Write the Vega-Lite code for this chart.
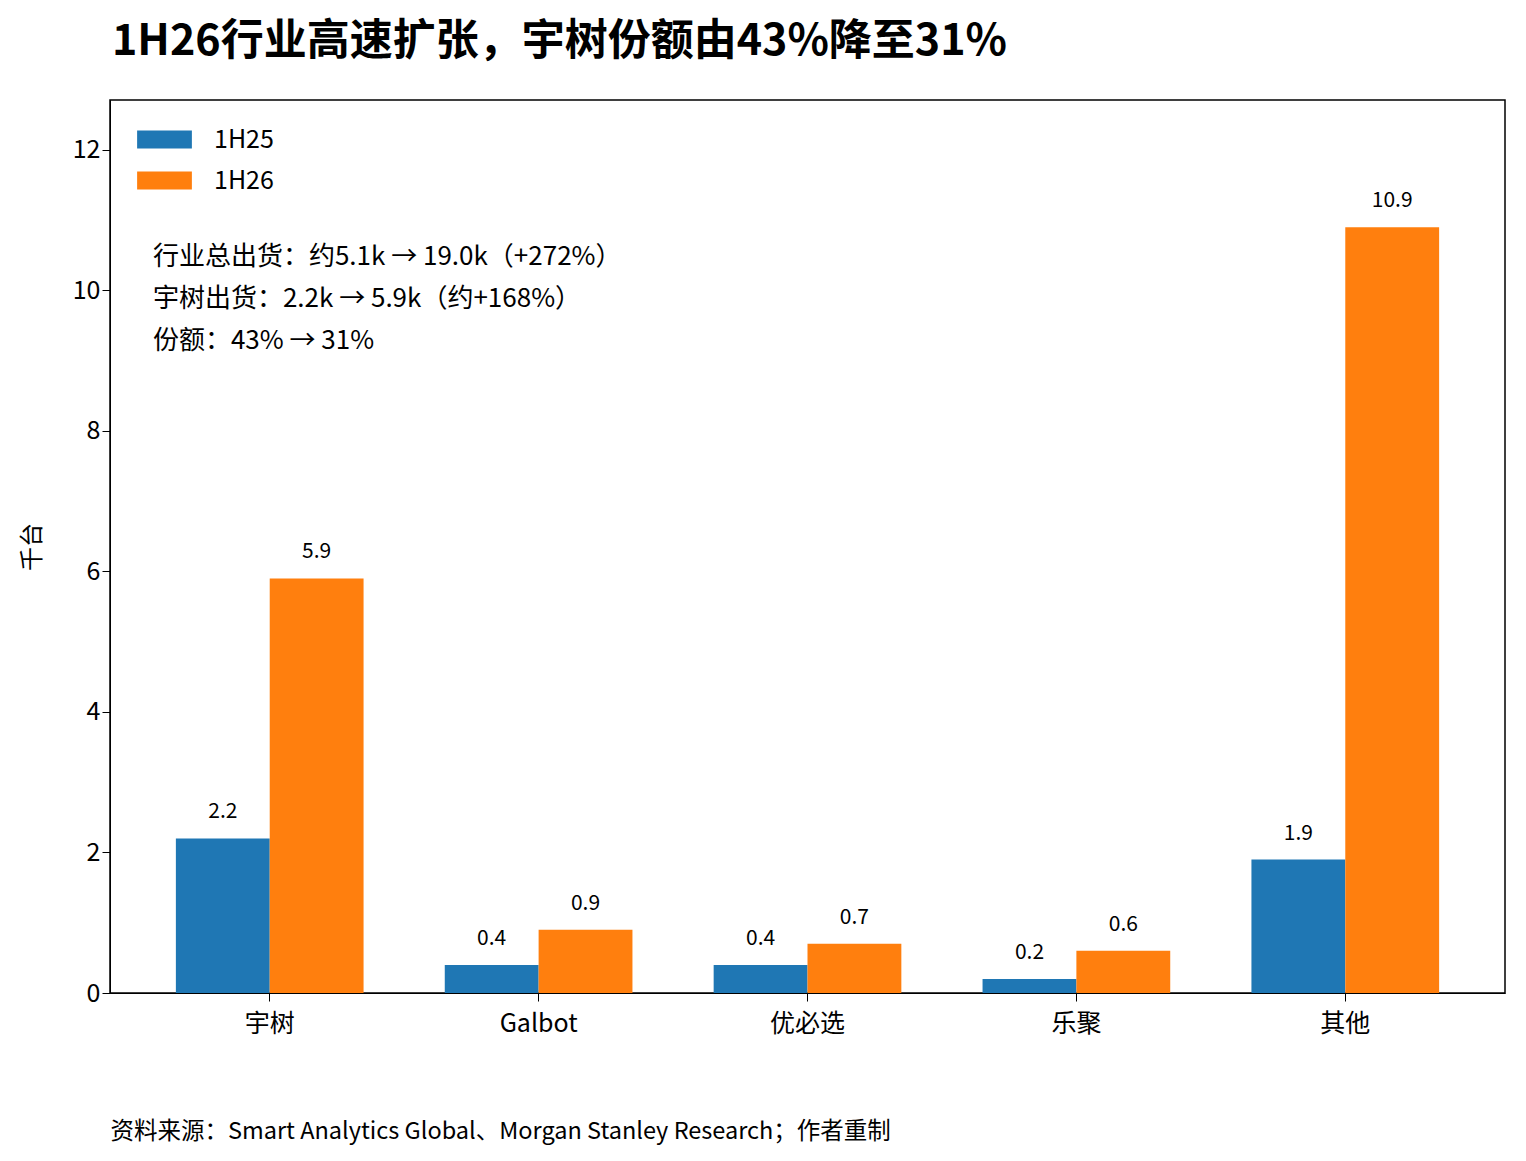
{
  "$schema": "https://vega.github.io/schema/vega-lite/v6.json",
  "width": 1395,
  "height": 893,
  "autosize": "none",
  "padding": {"left": 110, "top": 100, "right": 21, "bottom": 168},
  "title": {"text": "1H26行业高速扩张，宇树份额由43%降至31%", "anchor": "start", "frame": "group", "fontSize": 43, "fontWeight": "bold", "font": "Noto Sans CJK SC", "offset": 36, "color": "#000", "dx": 2},
  "config": {"font": "Noto Sans CJK SC", "view": {"stroke": "#000", "strokeWidth": 1.5}},
  "layer": [
    {
      "data": {"values": [
        {"company": "宇树", "period": "1H25", "value": 2.2},
        {"company": "宇树", "period": "1H26", "value": 5.9},
        {"company": "Galbot", "period": "1H25", "value": 0.4},
        {"company": "Galbot", "period": "1H26", "value": 0.9},
        {"company": "优必选", "period": "1H25", "value": 0.4},
        {"company": "优必选", "period": "1H26", "value": 0.7},
        {"company": "乐聚", "period": "1H25", "value": 0.2},
        {"company": "乐聚", "period": "1H26", "value": 0.6},
        {"company": "其他", "period": "1H25", "value": 1.9},
        {"company": "其他", "period": "1H26", "value": 10.9}
      ]},
      "encoding": {
        "x": {"field": "company", "type": "nominal", "sort": null,
          "scale": {"paddingInner": 0.302, "paddingOuter": 0.245},
          "axis": {"labelAngle": 0, "labelFontSize": 25, "labelColor": "#000", "tickSize": 8, "tickColor": "#000", "domainColor": "#000", "labelPadding": 10,
            "title": "资料来源：Smart Analytics Global、Morgan Stanley Research；作者重制", "titleFontSize": 23.5, "titleFontWeight": "normal", "titleColor": "#000", "titleAnchor": "start", "titleAlign": "left", "titleX": 0, "titleY": 126}},
        "xOffset": {"field": "period", "type": "nominal", "scale": {"paddingInner": 0}},
        "y": {"field": "value", "type": "quantitative", "scale": {"domain": [0, 12.71], "nice": false},
          "axis": {"values": [0, 2, 4, 6, 8, 10, 12], "format": "d", "grid": false, "labelFontSize": 25, "labelColor": "#000", "tickSize": 8, "tickColor": "#000", "domainColor": "#000",
            "title": "千台", "titleFontSize": 24, "titleFontWeight": "normal", "titleColor": "#000", "titlePadding": 28}}
      },
      "layer": [
        {"mark": {"type": "bar"},
          "encoding": {"color": {"field": "period", "type": "nominal", "scale": {"range": ["#1f77b4", "#ff7f0e"]},
            "legend": {"title": null, "orient": "none", "legendX": 27, "legendY": 12, "labelFontSize": 25, "labelColor": "#000", "symbolType": "M-1,-0.33H1V0.33H-1Z", "symbolSize": 3000, "symbolStrokeWidth": 0, "rowPadding": -12, "labelOffset": 22}}}},
        {"mark": {"type": "text", "dy": -26, "fontSize": 21, "color": "#000"},
          "encoding": {"text": {"field": "value", "type": "quantitative", "format": ".1f"}}}
      ]
    },
    {
      "data": {"values": [
        {"line": "行业总出货：约5.1k → 19.0k（+272%）", "y": 10.48},
        {"line": "宇树出货：2.2k → 5.9k（约+168%）", "y": 9.88},
        {"line": "份额：43% → 31%", "y": 9.28}
      ]},
      "mark": {"type": "text", "align": "left", "baseline": "middle", "fontSize": 26, "color": "#000", "dx": -23},
      "encoding": {
        "x": {"datum": "宇树", "type": "nominal", "bandPosition": 0},
        "y": {"field": "y", "type": "quantitative"},
        "text": {"field": "line"}
      }
    }
  ]
}
